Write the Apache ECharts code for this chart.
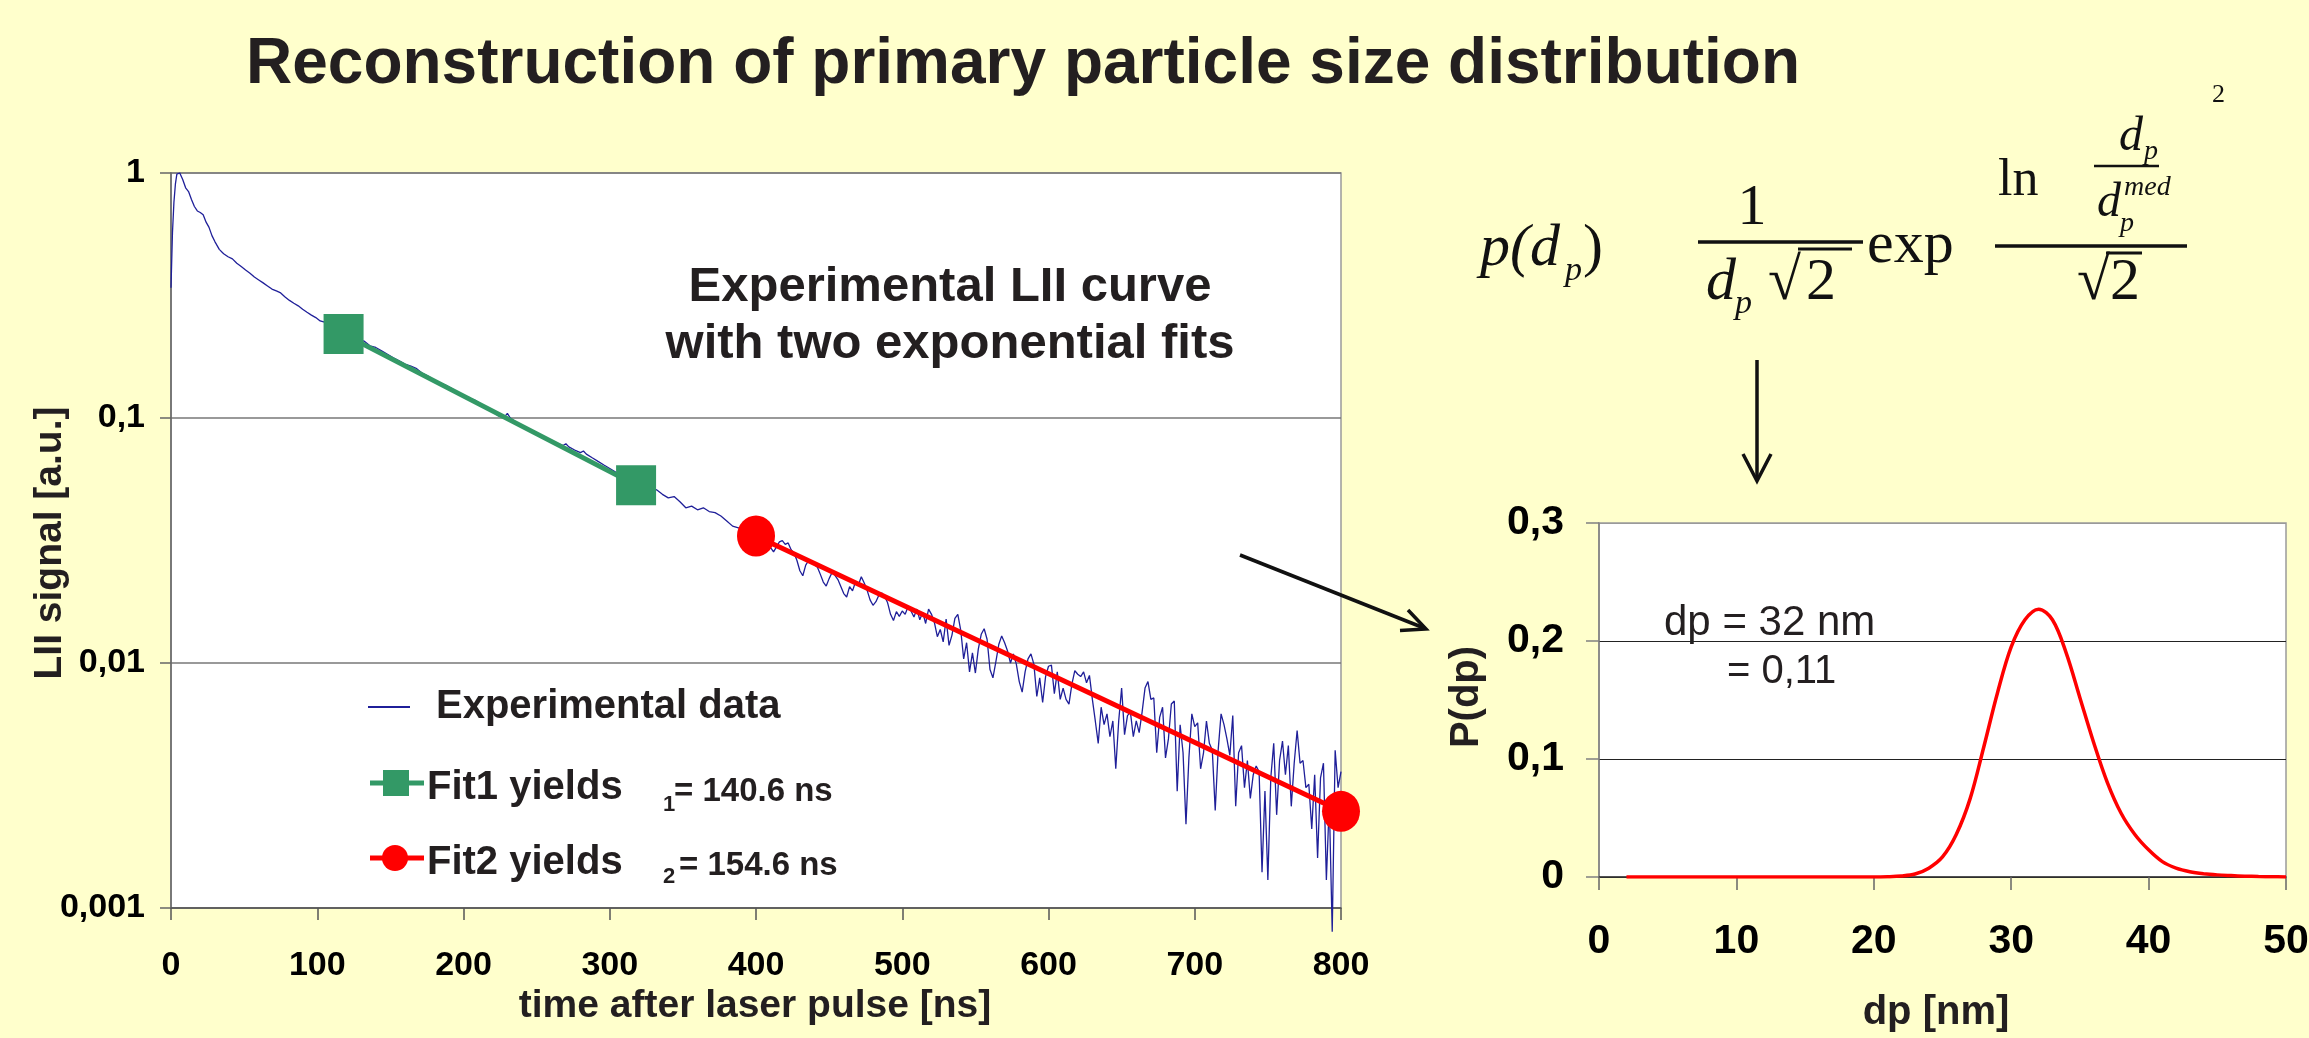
<!DOCTYPE html>
<html>
<head>
<meta charset="utf-8">
<title>Reconstruction of primary particle size distribution</title>
<script src="https://cdn.jsdelivr.net/npm/echarts@6/dist/echarts.min.js"></script>
<style>
  html, body { margin: 0; padding: 0; background: #ffffcc; }
  #chart { width: 2309px; height: 1038px; }
</style>
</head>
<body>
<div id="chart"></div>
<script>
// experimental LII signal, 0..400 ns (time ns, signal a.u.)
const expEarly = [
  [0, 0.34], [1, 0.57], [2, 0.76], [3, 0.9], [4, 0.99], [6, 1.0], [8, 0.94], [10, 0.87],
  [12, 0.84], [14, 0.78], [16, 0.73], [18, 0.7], [20, 0.69], [22, 0.675], [24, 0.63], [26, 0.6],
  [28, 0.555], [30, 0.525], [33, 0.488], [36, 0.468], [39, 0.455], [42, 0.446], [45, 0.428], [48, 0.415],
  [51, 0.402], [54, 0.39], [57, 0.376], [60, 0.366], [63, 0.356], [66, 0.346], [69, 0.336], [72, 0.33],
  [75, 0.324], [78, 0.312], [81, 0.302], [84, 0.294], [87, 0.287], [90, 0.278], [93, 0.27], [96, 0.263],
  [99, 0.257], [102, 0.249], [105, 0.246], [108, 0.238], [111, 0.232], [114, 0.227], [117, 0.222], [120, 0.219],
  [124, 0.214], [128, 0.209], [132, 0.206], [136, 0.197], [140, 0.194], [144, 0.188], [148, 0.182], [152, 0.176],
  [156, 0.171], [160, 0.166], [164, 0.163], [168, 0.159], [172, 0.152], [176, 0.148], [180, 0.143], [184, 0.139],
  [188, 0.136], [192, 0.132], [196, 0.127], [200, 0.124], [204, 0.121], [208, 0.118], [212, 0.114], [216, 0.11],
  [220, 0.106], [224, 0.102], [228, 0.101], [230, 0.1045], [232, 0.1], [236, 0.096], [240, 0.0935], [244, 0.0905],
  [248, 0.0885], [252, 0.0858], [256, 0.0832], [260, 0.0812], [264, 0.079], [268, 0.0772], [270, 0.0785], [272, 0.0762],
  [276, 0.074], [280, 0.0722], [282, 0.0733], [284, 0.0712], [288, 0.0688], [292, 0.0665], [296, 0.0643], [300, 0.0622],
  [304, 0.0601], [308, 0.0582], [312, 0.0566], [316, 0.0548], [320, 0.0535], [324, 0.0527], [328, 0.0519], [332, 0.0509],
  [336, 0.0488], [340, 0.0472], [344, 0.0478], [348, 0.0455], [352, 0.043], [356, 0.0437], [360, 0.0422], [364, 0.043],
  [368, 0.0415], [372, 0.0411], [376, 0.0398], [380, 0.038], [384, 0.0362], [388, 0.0356], [392, 0.035], [396, 0.0338],
  [400, 0.0333]
];

// experimental LII signal, 402..800 ns sampled every 2 ns
const LATE_START = 402;
const LATE_STEP = 2;
const expLate = [
  0.0318, 0.0300, 0.0312, 0.0289, 0.0296, 0.0284, 0.0298, 0.0312, 0.0316, 0.0305,
  0.0309, 0.0290, 0.0281, 0.0262, 0.0238, 0.0227, 0.0251, 0.0262, 0.0258, 0.0252,
  0.0246, 0.0230, 0.0214, 0.0206, 0.0221, 0.0234, 0.0228, 0.0219, 0.0205, 0.0192,
  0.0186, 0.0205, 0.0197, 0.0214, 0.0208, 0.0225, 0.0212, 0.0198, 0.0181, 0.0172,
  0.0178, 0.0189, 0.0193, 0.0187, 0.0176, 0.0158, 0.0149, 0.0162, 0.0155, 0.0163,
  0.0158, 0.0170, 0.0163, 0.0154, 0.0166, 0.0150, 0.0161, 0.0145, 0.0166, 0.0158,
  0.0146, 0.0128, 0.0137, 0.0122, 0.0151, 0.0118, 0.0130, 0.0152, 0.0158, 0.0136,
  0.0104, 0.0121, 0.0092, 0.0110, 0.0091, 0.0114, 0.0131, 0.0138, 0.0125, 0.0094,
  0.0087, 0.0101, 0.0119, 0.0129, 0.0121, 0.0112, 0.0100, 0.0109, 0.0099, 0.0084,
  0.0076, 0.0092, 0.0104, 0.0109, 0.0099, 0.0073, 0.0087, 0.0069, 0.0088, 0.0097,
  0.0098, 0.0075, 0.0092, 0.0071, 0.0079, 0.0071, 0.0068, 0.0082, 0.0093, 0.0090,
  0.0088, 0.0092, 0.0083, 0.0089, 0.0071, 0.0058, 0.0047, 0.0066, 0.0056, 0.0062,
  0.0050, 0.0058, 0.0037, 0.0058, 0.0079, 0.0051, 0.0061, 0.0063, 0.0050, 0.0058,
  0.0052, 0.0063, 0.0079, 0.0084, 0.0071, 0.0072, 0.0043, 0.0060, 0.0066, 0.0041,
  0.0049, 0.0068, 0.0070, 0.0030, 0.0056, 0.0043, 0.0022, 0.0041, 0.0062, 0.0055,
  0.0057, 0.0037, 0.0043, 0.0058, 0.0047, 0.0044, 0.0025, 0.0044, 0.0062, 0.0056,
  0.0049, 0.0042, 0.0061, 0.0026, 0.0043, 0.0046, 0.0031, 0.0040, 0.0028, 0.0035,
  0.0038, 0.0036, 0.0014, 0.0030, 0.0013, 0.0034, 0.0047, 0.0024, 0.0040, 0.0048,
  0.0035, 0.0046, 0.0026, 0.0039, 0.0053, 0.0039, 0.0040, 0.0031, 0.0032, 0.0021,
  0.0035, 0.0016, 0.0034, 0.0039, 0.0013, 0.0027, 0.0008, 0.0044, 0.0031, 0.0036
];

// exponential fits (end points)
const fit1 = [[118, 0.220], [318, 0.0532]];
const fit2 = [[400, 0.033], [800, 0.00248]];

// reconstructed size distribution
const dpNm = [2, 3, 4, 5, 6, 7, 8, 9, 10, 11, 12, 13, 14, 15, 16, 17, 18, 19, 20,
  21, 22, 23, 24, 25, 26, 27, 28, 29, 30, 31, 32, 33, 34, 35, 36, 37, 38, 39, 40,
  41, 42, 43, 44, 45, 46, 47, 48, 49, 50];
const pDp = [0, 0, 0, 0, 0, 0, 0, 0, 0, 0, 0, 0, 0, 0, 0, 0, 0, 0, 0,
  0.0002, 0.0008, 0.0025, 0.0075, 0.017, 0.036, 0.066, 0.11, 0.156, 0.195, 0.218, 0.227, 0.218, 0.19, 0.152, 0.114,
  0.08, 0.054, 0.036, 0.023, 0.013, 0.0075, 0.0045, 0.0028, 0.0018, 0.0012, 0.0007, 0.0004, 0.0002, 0.0001];

const logTicks = ['1', '0,1', '0,01', '0,001'];

const SANS = "'Liberation Sans', Arial, sans-serif";
const SERIF = "'Liberation Serif', 'Times New Roman', serif";
const INK = '#231f20';

const expData = expEarly.concat(expLate.map((v, i) => [LATE_START + i * LATE_STEP, v]));
const distData = dpNm.map((d, i) => [d, pDp[i]]);

function txt(x, y, text, size, opt) {
  opt = opt || {};
  return {
    type: 'text',
    x: x,
    y: y,
    rotation: opt.rotation || 0,
    style: {
      text: text,
      fontSize: size,
      fontFamily: opt.family || SANS,
      fontWeight: opt.weight || 'normal',
      fontStyle: opt.italic ? 'italic' : 'normal',
      fill: opt.color || INK,
      align: opt.align || 'left',
      verticalAlign: 'middle'
    }
  };
}

function seg(x1, y1, x2, y2, color, w) {
  return { type: 'line', shape: { x1, y1, x2, y2 }, style: { stroke: color, lineWidth: w } };
}

// formula pieces, baseline positions converted to text centres
function mtxt(x, base, text, size, italic, align) {
  return txt(x, base - 0.305 * size, text, size, { family: SERIF, italic: italic, color: '#111', align: align });
}

const graphics = [
  txt(1023, 65, 'Reconstruction of primary particle size distribution', 64, { weight: 'bold', align: 'center' }),
  txt(950, 287, 'Experimental LII curve', 49, { weight: 'bold', align: 'center' }),
  txt(950, 344, 'with two exponential fits', 49, { weight: 'bold', align: 'center' }),
  txt(50, 543, 'LII signal [a.u.]', 39, { weight: 'bold', align: 'center', rotation: Math.PI / 2 }),
  txt(755, 1006, 'time after laser pulse [ns]', 39, { weight: 'bold', align: 'center' }),
  txt(1467, 697, 'P(dp)', 40, { weight: 'bold', align: 'center', rotation: Math.PI / 2 }),
  txt(1936, 1013, 'dp [nm]', 40, { weight: 'bold', align: 'center' }),
  txt(1664, 623, 'dp = 32 nm', 42),
  txt(1727, 672, '= 0,11', 40),

  // legend of the LII chart
  seg(368, 707, 410, 707, '#1f1f99', 2),
  txt(436, 707, 'Experimental data', 40, { weight: 'bold' }),
  seg(370, 783, 424, 783, '#339966', 5),
  { type: 'rect', shape: { x: 383, y: 770, width: 26, height: 26 }, style: { fill: '#339966' } },
  txt(427, 788, 'Fit1 yields', 40, { weight: 'bold' }),
  txt(663, 805, '1', 22, { weight: 'bold' }),
  txt(674, 792, '= 140.6 ns', 33, { weight: 'bold' }),
  seg(370, 858, 424, 858, '#ff0000', 5),
  { type: 'circle', shape: { cx: 395, cy: 858, r: 13 }, style: { fill: '#ff0000' } },
  txt(427, 863, 'Fit2 yields', 40, { weight: 'bold' }),
  txt(663, 877, '2', 22, { weight: 'bold' }),
  txt(679, 866, '= 154.6 ns', 33, { weight: 'bold' }),

  // log-normal formula
  mtxt(1480, 268, 'p(d', 60, true),
  mtxt(1565, 281, 'p', 34, true),
  mtxt(1583, 268, ')', 60, false),
  mtxt(1752, 226, '1', 58, false, 'center'),
  seg(1698, 242, 1863, 242, '#111', 3.5),
  mtxt(1706, 302, 'd', 60, true),
  mtxt(1735, 314, 'p', 34, true),
  mtxt(1768, 302, '\u221a', 60, false),
  mtxt(1806, 302, '2', 60, false),
  seg(1798, 249, 1852, 249, '#111', 3),
  mtxt(1867, 265, 'exp', 60, false),
  seg(1995, 246, 2187, 246, '#111', 3.5),
  mtxt(1998, 197, 'ln', 52, false),
  seg(2094, 166, 2159, 166, '#111', 2.5),
  mtxt(2119, 152, 'd', 48, true),
  mtxt(2144, 160, 'p', 28, true),
  mtxt(2097, 218, 'd', 48, true),
  mtxt(2124, 196, 'med', 28, true),
  mtxt(2120, 232, 'p', 28, true),
  mtxt(2077, 302, '\u221a2', 60, false),
  seg(2106, 253, 2142, 253, '#111', 3),
  mtxt(2212, 103, '2', 26, false),

  // arrows
  seg(1757, 360, 1757, 480, '#111', 3.5),
  { type: 'polyline', shape: { points: [[1743, 454], [1757, 481], [1771, 454]] }, style: { stroke: '#111', lineWidth: 3.5, fill: null } },
  seg(1240, 555, 1424, 628, '#111', 3.5),
  { type: 'polyline', shape: { points: [[1408, 610], [1426, 629], [1400, 630.5]] }, style: { stroke: '#111', lineWidth: 3.5, fill: null } }
];

const chart = echarts.init(document.getElementById('chart'));

const option = {
  animation: false,
  backgroundColor: '#ffffcc',
  grid: [
    { left: 171, top: 173, width: 1170, height: 735, show: true, backgroundColor: '#ffffff', borderColor: '#9a9a9a', borderWidth: 1.5, outerBoundsMode: 'none' },
    { left: 1599, top: 523, width: 687, height: 354, show: true, backgroundColor: '#ffffff', borderColor: '#9a9a9a', borderWidth: 1.5, outerBoundsMode: 'none' }
  ],
  xAxis: [
    {
      gridIndex: 0,
      type: 'value',
      min: 0,
      max: 800,
      interval: 100,
      axisLine: { show: true, onZero: false, lineStyle: { color: '#555', width: 1.5 } },
      axisTick: { show: true, length: 12, lineStyle: { color: '#555', width: 1.5 } },
      axisLabel: { fontSize: 34, fontWeight: 'bold', fontFamily: SANS, color: '#000', margin: 41 },
      splitLine: { show: false }
    },
    {
      gridIndex: 1,
      type: 'value',
      min: 0,
      max: 50,
      interval: 10,
      axisLine: { show: true, onZero: false, lineStyle: { color: '#333', width: 1.5 } },
      axisTick: { show: true, length: 13, lineStyle: { color: '#666', width: 1.5 } },
      axisLabel: { fontSize: 41, fontWeight: 'bold', fontFamily: SANS, color: '#000', margin: 44 },
      splitLine: { show: false }
    }
  ],
  yAxis: [
    {
      gridIndex: 0,
      type: 'log',
      logBase: 10,
      min: 0.001,
      max: 1,
      axisLine: { show: true, lineStyle: { color: '#666', width: 1.5 } },
      axisTick: { show: true, length: 11, lineStyle: { color: '#666', width: 1.5 } },
      axisLabel: {
        fontSize: 34, fontWeight: 'bold', fontFamily: SANS, color: '#000', margin: 26,
        formatter: v => logTicks[Math.round(-Math.log10(v))]
      },
      splitLine: { show: true, lineStyle: { color: '#777', width: 1.5 } },
      minorTick: { show: false }
    },
    {
      gridIndex: 1,
      type: 'value',
      min: 0,
      max: 0.3,
      interval: 0.1,
      axisLine: { show: true, lineStyle: { color: '#808080', width: 1.5 } },
      axisTick: { show: true, length: 13, lineStyle: { color: '#808080', width: 1.5 } },
      axisLabel: {
        fontSize: 41, fontWeight: 'bold', fontFamily: SANS, color: '#000', margin: 35,
        formatter: v => (v === 0 ? '0' : v.toFixed(1).replace('.', ','))
      },
      splitLine: { show: true, lineStyle: { color: ['#222', '#222', '#222', '#9a9a9a'], width: 1.2 } }
    }
  ],
  series: [
    {
      name: 'Experimental data',
      type: 'line',
      xAxisIndex: 0,
      yAxisIndex: 0,
      data: expData,
      showSymbol: false,
      clip: false,
      silent: true,
      lineStyle: { color: '#1f1f99', width: 1.3 },
      z: 2
    },
    {
      name: 'Fit1',
      type: 'line',
      xAxisIndex: 0,
      yAxisIndex: 0,
      data: fit1,
      symbol: 'rect',
      symbolSize: 40,
      itemStyle: { color: '#339966' },
      lineStyle: { color: '#339966', width: 5 },
      z: 3
    },
    {
      name: 'Fit2',
      type: 'line',
      xAxisIndex: 0,
      yAxisIndex: 0,
      data: fit2,
      symbol: 'circle',
      symbolSize: [38, 41],
      itemStyle: { color: '#ff0000' },
      lineStyle: { color: '#ff0000', width: 5 },
      z: 3
    },
    {
      name: 'P(dp)',
      type: 'line',
      xAxisIndex: 1,
      yAxisIndex: 1,
      data: distData,
      showSymbol: false,
      smooth: 0.35,
      lineStyle: { color: '#ff0000', width: 3.5 },
      z: 3
    }
  ],
  graphic: { elements: graphics }
};

chart.setOption(option);
</script>
</body>
</html>
